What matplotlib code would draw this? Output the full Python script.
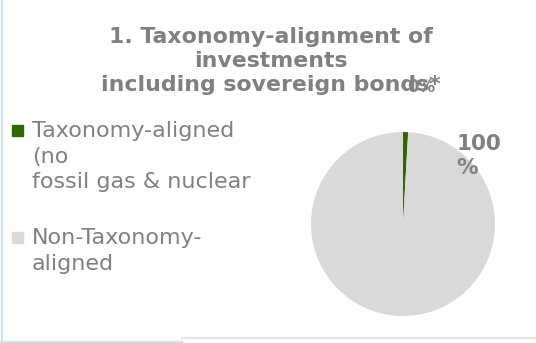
import matplotlib.pyplot as plt
from matplotlib.lines import Line2D
from matplotlib.patches import Rectangle

categories = ['Taxonomy-aligned\n(no\nfossil gas & nuclear', 'Non-Taxonomy-\naligned']
shares = [0.9, 99.1]
value_labels = ['0%', '100\n%']
colors = ['#336600', '#d9d9d9']
title = '1. Taxonomy-alignment of\ninvestments\nincluding sovereign bonds*'

grey = '#808080'
W, H = 536, 343

fig = plt.figure(figsize=(W / 100, H / 100), dpi=100)
# pie centred at (403, 224) px with radius 92 px
ax = fig.add_axes([(403 - 92) / W, (H - 224 - 92) / H, 184 / W, 184 / H])

wedges, _ = ax.pie(shares, colors=colors, startangle=90, counterclock=False)
ax.set_xlim(-1, 1)
ax.set_ylim(-1, 1)
ax.set_aspect('equal')

# percentage labels sit outside the pie
ax.text(0.2, 1.49, value_labels[0], ha='center', va='center', color=grey,
        fontsize=12, fontweight='bold', clip_on=False)
ax.text(0.58, 0.74, value_labels[1], ha='left', va='center', color=grey,
        fontsize=15.5, fontweight='bold', linespacing=1.2, clip_on=False)

fig.text(271 / W, 1 - 61 / H, title, ha='center', va='center', color=grey,
         fontsize=15.8, fontweight='bold', linespacing=1.25)

# legend: square marker next to the first line of each label
entry_tops = [125, 232]
for label, color, top in zip(categories, colors, entry_tops):
    fig.add_artist(Rectangle((12 / W, 1 - (top + 11) / H), 11 / W, 11 / H,
                             transform=fig.transFigure, color=color))
    fig.text(32 / W, 1 - (top - 4) / H, label, ha='left', va='top',
             color=grey, fontsize=16, linespacing=1.35)

# thin frame lines along the edges
fig.add_artist(Line2D([0.003, 0.003], [0.0, 1.0], color='#cfe0f2', lw=1.5))
fig.add_artist(Line2D([0.0, 0.34], [0.004, 0.004], color='#cfe0f2', lw=1.5))
fig.add_artist(Line2D([0.34, 1.0], [0.014, 0.014], color='#e6e6e6', lw=1.5))

fig.savefig('out.png', dpi=100)
